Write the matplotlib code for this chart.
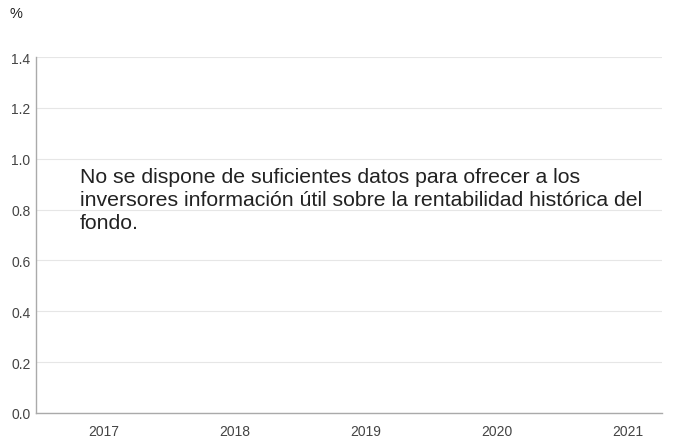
import matplotlib.pyplot as plt

# categories (no performance data available)
years = ["2017", "2018", "2019", "2020", "2021"]
yticks = [0.0, 0.2, 0.4, 0.6, 0.8, 1.0, 1.2, 1.4]
message = ("No se dispone de suficientes datos para ofrecer a los\n"
           "inversores información útil sobre la rentabilidad histórica del\n"
           "fondo.")

plt.rcParams['font.family'] = ['Liberation Sans', 'DejaVu Sans']

fig = plt.figure(figsize=(6.73, 4.39), dpi=100)
ax = fig.add_axes([36/673, 25/439, 626/673, 356/439])

ax.set_xlim(-0.52, len(years) - 1 + 0.26)
ax.set_ylim(0, 1.4)
ax.set_xticks(range(len(years)))
ax.set_xticklabels(years)
ax.set_yticks(yticks)
ax.set_yticklabels([f"{v:.1f}" for v in yticks])
ax.tick_params(axis='both', length=0, labelsize=10, colors='#444444')
ax.tick_params(axis='x', pad=8)
ax.tick_params(axis='y', pad=4)

ax.grid(axis='y', color='#e6e6e6', linewidth=0.8)
ax.set_axisbelow(True)
for s in ['top', 'right']:
    ax.spines[s].set_visible(False)
for s in ['left', 'bottom']:
    ax.spines[s].set_color('#aaaaaa')
    ax.spines[s].set_linewidth(1)

ax.text(-0.184, 0.968, message, fontsize=15.3, color='#222222',
        va='top', ha='left', linespacing=1.28)
fig.text(10/673, 1 - 14/439, "%", fontsize=10.5, color='#222222', va='center')

fig.savefig("out.png", dpi=100)
